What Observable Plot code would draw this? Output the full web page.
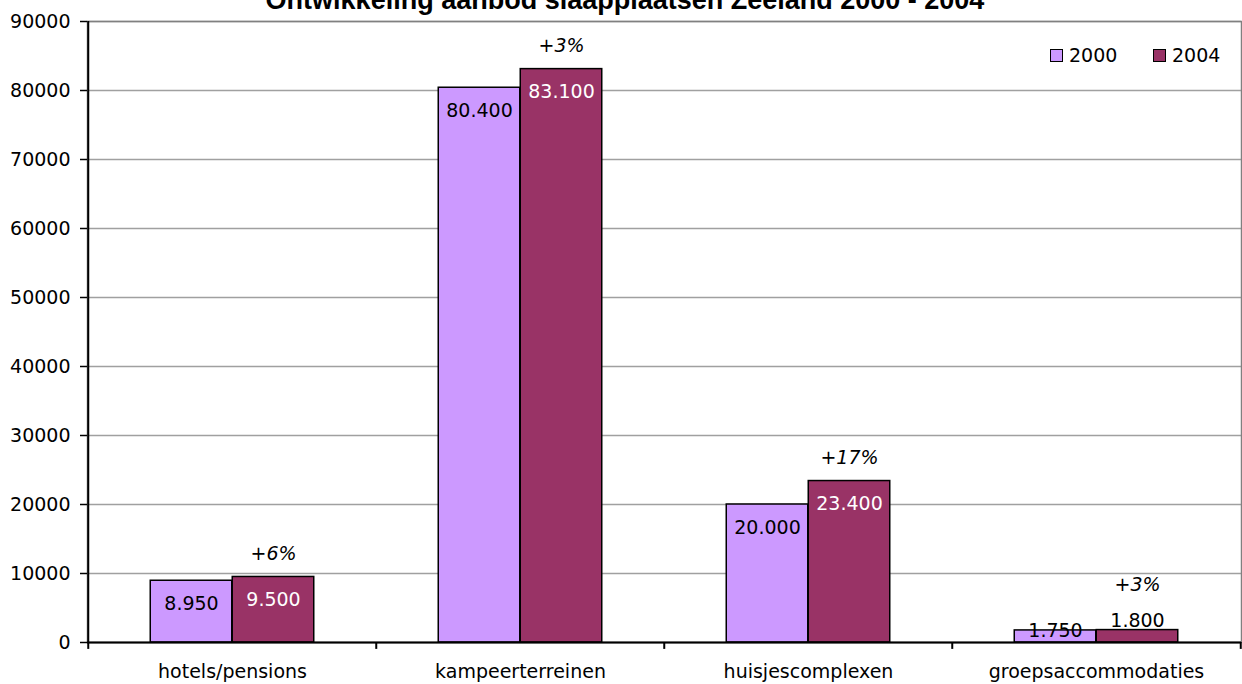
<!DOCTYPE html>
<html><head><meta charset="utf-8">
<script src="https://cdn.jsdelivr.net/npm/d3@7"></script>
<script src="https://cdn.jsdelivr.net/npm/@observablehq/plot@0.6"></script>
<style>
body{margin:0;background:#fff;overflow:hidden}
#wrap{position:relative;width:1242px;height:684px;font-family:"DejaVu Sans",sans-serif}
#title{position:absolute;left:4px;width:1242px;top:-13px;text-align:center;font:bold 27px/27px "Liberation Sans",Arial,sans-serif;color:#000;white-space:nowrap}
.sw{position:absolute;width:13px;height:13px;box-sizing:border-box;border:1.5px solid #000}
.lt{position:absolute;font:19px/19px "DejaVu Sans",sans-serif;color:#000}
</style></head>
<body><div id="wrap"><div id="chart"></div><div id="title">Ontwikkeling aanbod slaapplaatsen Zeeland 2000 - 2004</div><div id="legend"></div></div>
<script>
const categories = ["hotels/pensions","kampeerterreinen","huisjescomplexen","groepsaccommodaties"];
const years = ["2000","2004"];
const values2000 = [8950,80400,20000,1750];
const values2004 = [9500,83100,23400,1800];
const growthLabels = ["+6%","+3%","+17%","+3%"];
const yTicks = [0,10000,20000,30000,40000,50000,60000,70000,80000,90000];
const colors = ["#CC99FF","#993366"];

const nl = d3.formatLocale({decimal:",", thousands:".", grouping:[3], currency:["€",""]});
const fmt = nl.format(",d");
const rows = categories.map((c,i)=>({category:c, v2000:values2000[i], v2004:values2004[i], growth:growthLabels[i]}));

const half = 288.5/2, barW = 82;
const plot = Plot.plot({
  width:1242, height:684,
  marginLeft:87, marginRight:1, marginTop:21, marginBottom:42,
  style:{fontFamily:"DejaVu Sans, sans-serif", fontSize:"19px", background:"#fff", overflow:"visible"},
  x:{domain:categories, padding:0},
  y:{domain:[0,90000]},
  marks:[
    Plot.gridY(yTicks,{stroke:"#a0a0a0", strokeOpacity:1, strokeWidth:1.5}),
    Plot.frame({stroke:"#808080", strokeWidth:1.5}),
    Plot.barY(rows,{x:"category", y:"v2000", fill:colors[0], stroke:"#000", strokeWidth:1.5, insetLeft:half-barW, insetRight:half}),
    Plot.barY(rows,{x:"category", y:"v2004", fill:colors[1], stroke:"#000", strokeWidth:1.5, insetLeft:half, insetRight:half-barW}),
    Plot.text(rows,{x:"category", y:d=>Math.max(d.v2000,5000), text:d=>fmt(d.v2000), dx:-barW/2, dy:23, fill:"#000", fontSize:19}),
    Plot.text(rows,{x:"category", y:d=>Math.max(d.v2004,6500), text:d=>fmt(d.v2004), dx:barW/2, dy:23, fill:d=>d.v2004<5000?"#000":"#fff", fontSize:19}),
    Plot.text(rows,{x:"category", y:d=>Math.max(d.v2004,5000), text:"growth", dx:barW/2, dy:-23, fill:"#000", fontSize:19, fontStyle:"italic"}),
    Plot.ruleY([0],{stroke:"#000", strokeWidth:2}),
    Plot.ruleX([categories[0]],{x:d=>d, dx:-half, y1:0, y2:90000, stroke:"#000", strokeWidth:2}),
    Plot.ruleX(categories,{x:d=>d, dx:-half, y1:0, y2:-1000, stroke:"#000", strokeWidth:2}),
    Plot.ruleX([categories[categories.length-1]],{x:d=>d, dx:half, y1:0, y2:-1000, stroke:"#000", strokeWidth:2}),
    Plot.axisY({ticks:yTicks, tickFormat:d=>String(d), tickSize:7, tickPadding:10, fontSize:19, label:null, stroke:"#000", strokeWidth:1.5}),
    Plot.axisX({tickSize:0, tickPadding:22, fontSize:19, label:null})
  ]
});
document.getElementById("chart").appendChild(plot);

const legend = document.getElementById("legend");
const lx = [1050,1153];
years.forEach((y,i)=>{
  const s=document.createElement("div"); s.className="sw";
  s.style.left=lx[i]+"px"; s.style.top="49px"; s.style.background=colors[i];
  legend.appendChild(s);
  const t=document.createElement("div"); t.className="lt"; t.textContent=y;
  t.style.left=(lx[i]+19)+"px"; t.style.top="46px";
  legend.appendChild(t);
});
</script></body></html>
